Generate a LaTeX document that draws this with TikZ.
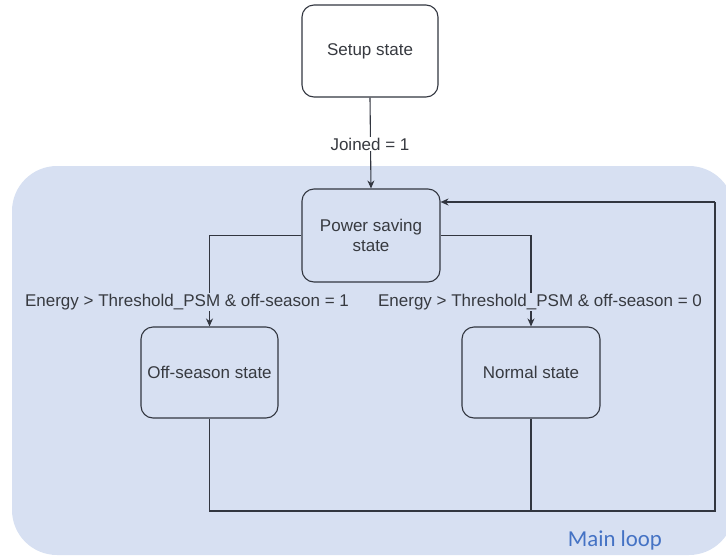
\documentclass[tikz,border=0pt]{standalone}
\usepackage{fontspec}
\setmainfont{Liberation Sans}
\newfontfamily\calfont{Carlito}
\usetikzlibrary{arrows.meta}
\definecolor{bgblue}{RGB}{215,224,242}
\definecolor{linec}{RGB}{50,54,64}
\definecolor{textc}{RGB}{55,58,64}
\definecolor{loopblue}{RGB}{68,114,196}
\begin{document}
\begin{tikzpicture}[x=1pt,y=-1pt,
  statebox/.style={draw=linec,line width=1.1pt,rounded corners=12pt,align=center,font=\fontsize{17}{20}\selectfont,text=textc,inner sep=0pt},
  conn/.style={draw=linec,line width=1.1pt},
  arr/.style={conn,-{Stealth[length=8pt,width=7pt]}},
  lbl/.style={font=\fontsize{17}{20}\selectfont,inner sep=1pt,text=textc}]
\useasboundingbox (0,0) rectangle (726,555);
\begin{scope}
\clip (0,0) rectangle (726,555);
\fill[bgblue,rounded corners=45pt] (12,166) rectangle (734,555);
\end{scope}
\node[statebox,fill=white,minimum width=136pt,minimum height=92pt] (setup) at (370,51) {Setup state};
\node[statebox,fill=bgblue,minimum width=138pt,minimum height=93pt] (psm) at (371,235.5) {Power saving\\state};
\node[statebox,fill=bgblue,minimum width=137pt,minimum height=91pt] (off) at (209.5,372.5) {Off-season state};
\node[statebox,fill=bgblue,minimum width=138pt,minimum height=91pt] (norm) at (531,372.5) {Normal state};
\coordinate (lb) at (209.5,511);
\coordinate (nb) at (531,511);
\coordinate (rb) at (715,511);
\coordinate (rt) at (715,202);
\draw[arr] (setup.south) -- (psm.north);
\node[lbl,fill=white] (joined) at (370,144) {Joined = 1};
\draw[arr] (psm.west) -| (off.north);
\draw[arr] (psm.east) -| (norm.north);
\node[lbl,fill=bgblue] (l1) at (187,302) {Energy > Threshold\_PSM \& off-season = 1};
\node[lbl,fill=bgblue] (l2) at (540,302) {Energy > Threshold\_PSM \& off-season = 0};
\draw[conn] (off.south) -- (lb) -- (rb) -- (rt);
\draw[arr] (rt) -- (psm.east |- rt);
\draw[conn] (norm.south) -- (nb);
\node[font=\calfont\fontsize{22.8}{26}\selectfont,text=loopblue] (ml) at (615,540) {Main loop};
\end{tikzpicture}
\end{document}
